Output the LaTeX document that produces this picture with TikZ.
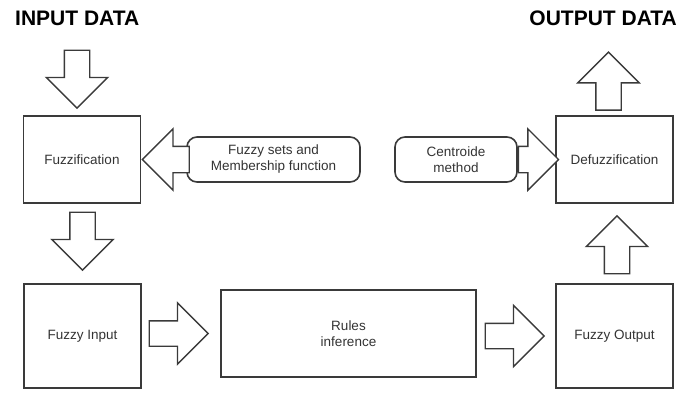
\documentclass[tikz,border=0pt]{standalone}
\usepackage{fontspec}
\setmainfont{Liberation Sans}
\usetikzlibrary{shapes.arrows}
\definecolor{linegray}{HTML}{3A3A3A}
\definecolor{textgray}{HTML}{333333}
\begin{document}
\begin{tikzpicture}[x=1pt, y=-1pt,
  box/.style={draw=linegray,line width=1.6pt,inner sep=0pt,align=center,text=textgray,
    font=\fontsize{13.5}{16}\selectfont,minimum width=117pt},
  soft/.style={box,rounded corners=10pt,minimum height=45pt},
  blk/.style={single arrow,draw=linegray,line width=1.4pt,fill=white,inner sep=12pt,
    minimum width=60pt,single arrow head extend=18pt,single arrow tip angle=90},
  title/.style={font=\fontsize{21}{25}\selectfont\bfseries,inner sep=0pt}]
\useasboundingbox (0,0) rectangle (695,392);
% headings
\node[title,anchor=base west] (tin) at (15,25) {INPUT DATA};
\node[title,anchor=base east] (tout) at (677,25) {OUTPUT DATA};
% blocks
\node[box,minimum height=87pt] (fuzz) at (82,159.5) {Fuzzification};
\node[box,minimum height=87pt] (defuzz) at (614.5,159.5) {Defuzzification};
\node[box,minimum height=104pt] (fin) at (82.5,336) {Fuzzy Input};
\node[box,minimum height=104pt] (fout) at (614.5,336) {Fuzzy Output};
\node[box,minimum width=255pt,minimum height=87pt] (rules) at (348.5,333.5) {Rules\\ inference};
\node[soft,minimum width=173pt] (sets) at (273.5,159.5) {Fuzzy sets and\\Membership function};
\node[soft,minimum width=122pt] (cent) at (456,159.5) {Centroide\\method};
% block arrows
\node[blk,rotate=-90,minimum height=58pt,anchor=tip] (a1) at ([xshift=-5pt,yshift=6pt]fuzz.north) {};
\node[blk,rotate=-90,minimum height=58pt,anchor=tip] (a2) at ([yshift=12pt]fin.north) {};
\node[blk,minimum height=59pt,anchor=tip] (a3) at ([xshift=-11pt]rules.west) {};
\node[blk,minimum height=59pt,anchor=tip] (a4) at ([xshift=-10pt]fout.west) {};
\node[blk,rotate=90,minimum height=58pt,anchor=tip] (a5) at ([xshift=2.5pt,yshift=-11pt]defuzz.south) {};
\node[blk,rotate=90,minimum height=58pt,anchor=tip] (a6) at ([xshift=-6pt,yshift=64pt]defuzz.north) {};
\node[blk,rotate=180,minimum height=47pt,single arrow head extend=17.5pt,inner sep=12.5pt,anchor=tip] (a7) at (fuzz.east) {};
\node[blk,minimum height=40pt,single arrow head extend=17.5pt,inner sep=12.5pt,anchor=tail] (a8) at (cent.east) {};
\end{tikzpicture}
\end{document}
